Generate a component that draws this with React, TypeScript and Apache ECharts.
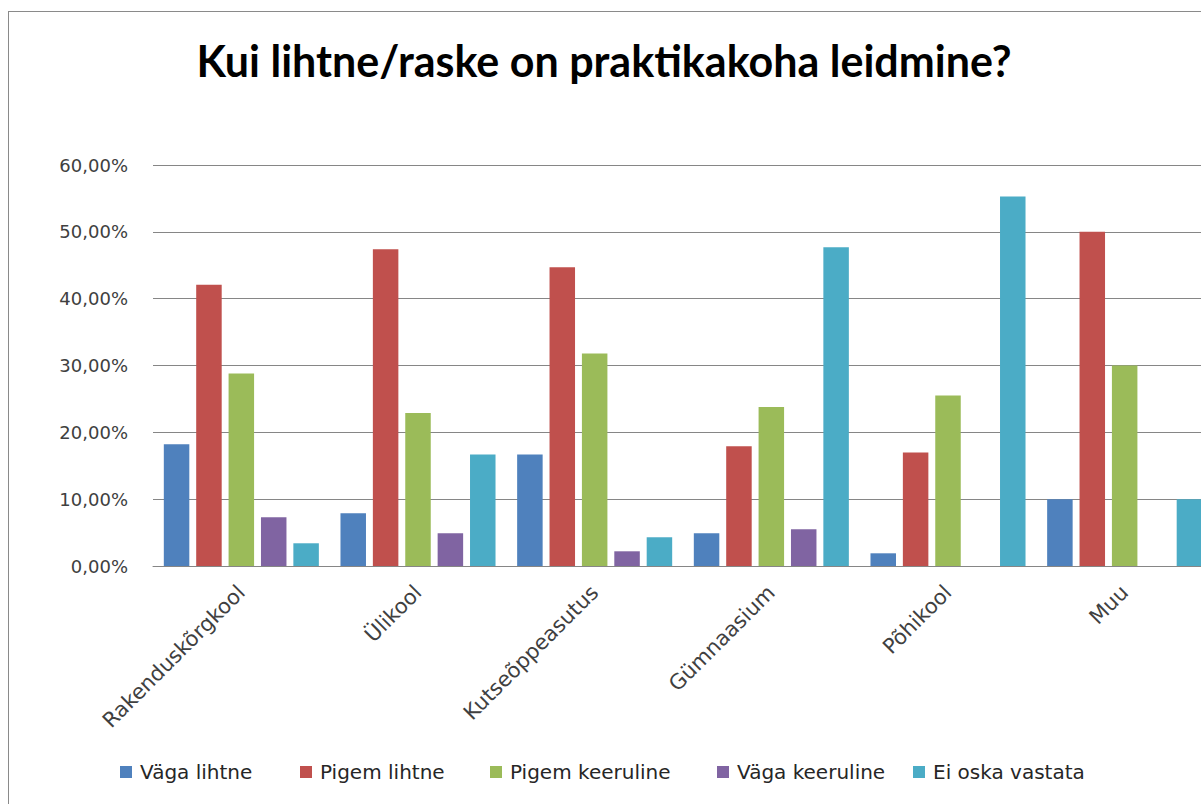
import React, { useEffect, useRef } from "react";
import * as echarts from "echarts";

const categories = ["Rakenduskõrgkool", "Ülikool", "Kutseõppeasutus", "Gümnaasium", "Põhikool", "Muu"];
const seriesNames = ["Väga lihtne", "Pigem lihtne", "Pigem keeruline", "Väga keeruline", "Ei oska vastata"];
const vagaLihtne = [18.2, 7.9, 16.7, 4.9, 1.9, 10.0];
const pigemLihtne = [42.1, 47.4, 44.7, 17.9, 17.0, 50.0];
const pigemKeeruline = [28.8, 22.9, 31.8, 23.8, 25.5, 30.0];
const vagaKeeruline = [7.3, 4.9, 2.2, 5.5, 0, 0];
const eiOskaVastata = [3.4, 16.7, 4.3, 47.7, 55.3, 10.0];
const colors = ["#4F81BD", "#C0504D", "#9BBB59", "#8064A2", "#4BACC6"];
const legendLefts = [111, 291, 481, 708, 904];

const FONT = "'DejaVu Sans', Verdana, sans-serif";

export default function App() {
  const ref = useRef<HTMLDivElement>(null);
  useEffect(() => {
    if (!ref.current) return;
    const chart = echarts.init(ref.current, null, { renderer: "svg" });
    const values = [vagaLihtne, pigemLihtne, pigemKeeruline, vagaKeeruline, eiOskaVastata];
    chart.setOption({
      animation: false,
      title: {
        text: "Kui lihtne/raske on praktikakoha leidmine?",
        left: 590,
        top: 22,
        textAlign: "center",
        textStyle: { fontFamily: "Lato, 'Open Sans', sans-serif", fontWeight: "bold", fontSize: 43, color: "#000" },
      },
      legend: seriesNames.map((name, i) => ({
        data: [name],
        left: legendLefts[i],
        top: 750,
        padding: 0,
        icon: "rect",
        itemWidth: 12,
        itemHeight: 12,
        textStyle: { fontFamily: FONT, fontSize: 20, color: "#262626", padding: [0, 0, 0, 3] },
      })),
      grid: { left: 144, top: 153, width: 1060, height: 401, containLabel: false },
      xAxis: {
        type: "category",
        data: categories,
        axisLine: { lineStyle: { color: "#868686", width: 1 } },
        axisTick: { show: false },
        axisLabel: { rotate: 45, margin: 23, fontFamily: FONT, fontSize: 21, color: "#404040", interval: 0 },
      },
      yAxis: {
        type: "value",
        min: 0,
        max: 60,
        interval: 10,
        axisLine: { show: false },
        axisTick: { show: false },
        splitLine: { lineStyle: { color: "#868686", width: 1 } },
        axisLabel: {
          margin: 25,
          fontFamily: FONT,
          fontSize: 18,
          color: "#404040",
          formatter: (v: number) => v.toFixed(2).replace(".", ",") + "%",
        },
      },
      series: seriesNames.map((name, i) => ({
        name,
        type: "bar",
        data: values[i],
        barWidth: 25.5,
        barGap: "27%",
        itemStyle: { color: colors[i] },
      })),
    });
    return () => chart.dispose();
  }, []);
  return (
    <div
      style={{
        position: "fixed",
        left: 8,
        top: 11,
        width: 1300,
        height: 900,
        borderLeft: "1px solid #8a8a8a",
        borderTop: "1px solid #8a8a8a",
        background: "#fff",
        overflow: "hidden",
      }}
    >
      <div ref={ref} style={{ width: 1300, height: 900 }} />
    </div>
  );
}
